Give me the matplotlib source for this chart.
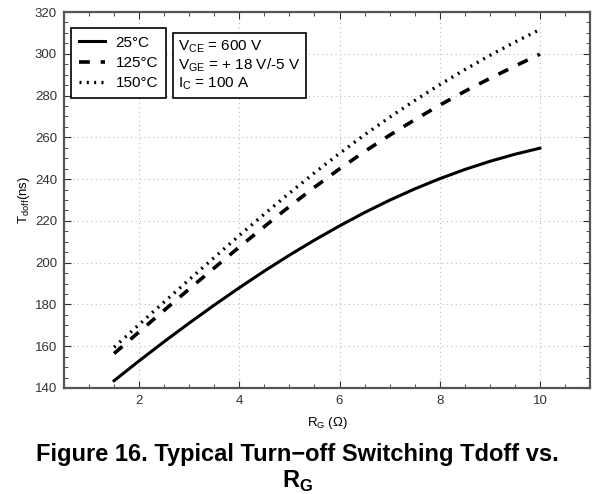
import matplotlib
matplotlib.use("Agg")
import matplotlib.pyplot as plt
from matplotlib.ticker import MultipleLocator

plt.rcParams['font.family'] = ['Liberation Sans', 'DejaVu Sans']

# gate resistance (ohm)
rg = [1.5, 2, 2.5, 3, 3.5, 4, 4.5, 5, 5.5, 6, 6.5, 7, 7.5, 8, 8.5, 9, 9.5, 10]
# Tdoff (ns) per junction temperature
t_25 = [143.5, 153.0, 162.2, 171.1, 179.7, 188.0, 196.0, 203.6, 210.8, 217.6, 224.0,
        229.9, 235.3, 240.2, 244.6, 248.5, 251.9, 254.8]
t_125 = [156.5, 166.9, 177.2, 187.4, 197.5, 207.5, 217.3, 226.9, 236.1, 244.9, 253.2,
         261.0, 268.4, 275.4, 282.0, 288.2, 294.1, 299.8]
t_150 = [159.5, 170.4, 181.2, 191.9, 202.5, 213.0, 223.3, 233.3, 243.0, 252.3, 261.2,
         269.6, 277.6, 285.2, 292.4, 299.2, 305.6, 311.6]
labels = ["25°C", "125°C", "150°C"]

fig = plt.figure(figsize=(5.95, 4.94), dpi=100)
ax = fig.add_axes([0.1076, 0.2146, 0.8840, 0.7611])

ax.plot(rg, t_25, color='black', lw=2.2, ls='-', label=labels[0])
ax.plot(rg, t_125, color='black', lw=2.6, ls=(0, (3, 3)), label=labels[1])
ax.plot(rg, t_150, color='black', lw=2.4, ls=(0, (0.6, 1.6)), label=labels[2])

ax.set_xlim(0.5, 11)
ax.set_ylim(140, 320)
ax.xaxis.set_major_locator(MultipleLocator(2))
ax.xaxis.set_minor_locator(MultipleLocator(0.5))
ax.yaxis.set_major_locator(MultipleLocator(20))
ax.yaxis.set_minor_locator(MultipleLocator(5))
ax.tick_params(which='both', direction='in', top=True, right=True, labelsize=9.5, colors='#333333')
ax.tick_params(which='major', length=5, pad=5)
ax.tick_params(which='minor', length=3)
for s in ax.spines.values():
    s.set_linewidth(1.6)
    s.set_color('#555555')
ax.grid(True, which='major', ls=(0, (1, 3)), color='#bbbbbb', lw=0.8)

ax.set_xlabel("R$_\\mathregular{G}$ (Ω)", fontsize=9.5, labelpad=6)
ax.set_ylabel("T$_\\mathregular{doff}$(ns)", fontsize=9.5, labelpad=2)

leg = ax.legend(loc='upper left', bbox_to_anchor=(0.014, 0.957), fontsize=11,
                handlelength=1.7, handletextpad=0.7, fancybox=False, edgecolor='black',
                framealpha=1, borderpad=0.5, labelspacing=0.4, borderaxespad=0)
leg.get_frame().set_linewidth(1.2)

ax.text(0.217, 0.93,
        "V$_\\mathregular{CE}$ = 600 V\nV$_\\mathregular{GE}$ = + 18 V/-5 V\nI$_\\mathregular{C}$ = 100 A",
        transform=ax.transAxes, fontsize=11, va='top', ha='left', linespacing=1.12,
        bbox=dict(boxstyle='square,pad=0.35', fc='white', ec='black', lw=1.2))

fig.text(0.5, 1 - 454 / 494, "Figure 16. Typical Turn\u2212off Switching Tdoff vs.", ha='center',
         va='center', fontsize=17, fontweight='bold')
fig.text(0.5, 6 / 494, "R$_\\mathregular{G}$", ha='center', va='baseline', fontsize=17,
         fontweight='bold')

fig.savefig("out.png", dpi=100)
